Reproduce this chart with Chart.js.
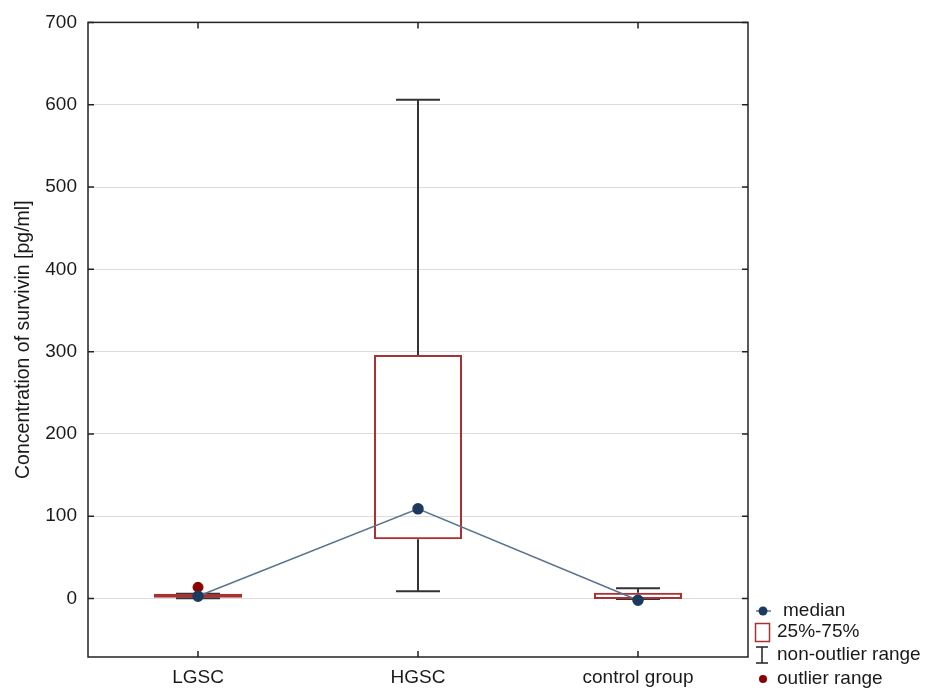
<!DOCTYPE html>
<html>
<head>
<meta charset="utf-8">
<script src="https://cdn.jsdelivr.net/npm/chart.js@4.4.0/dist/chart.umd.min.js"></script>
<style>
    body { margin: 0; background: #fff; }
</style>
</head>
<body>
<canvas id="chart" width="926" height="691"></canvas>
<script>
// box plot values
const categories = ["LGSC", "HGSC", "control group"];
const medians = [2.8, 109, -2];
const q1 = [0.9, 72, -0.4];
const q3 = [5.7, 296, 7];
const whiskerLow = [0.3, 9, -0.4];
const whiskerHigh = [5.7, 606, 12.5];
const outlierValues = [13.7, null, null];
const yTicks = [0, 100, 200, 300, 400, 500, 600, 700];

const FONT = "'Liberation Sans', Arial, sans-serif";
const BOX_COLOR = "#a83232";
const MEDIAN_COLOR = "#1c3a5e";
const OUTLIER_COLOR = "#8b0000";

// whiskers under the boxes
const whiskers = {
    id: "whiskers",
    beforeDatasetsDraw(chart) {
        const x = chart.scales.x;
        const y = chart.scales.y;
        const c = chart.ctx;
        const cap = (x.width / categories.length) * 0.1;
        c.save();
        c.strokeStyle = "#333";
        c.lineWidth = 2;
        categories.forEach((_cat, i) => {
            const px = x.getPixelForValue(i);
            const lo = y.getPixelForValue(whiskerLow[i]);
            const hi = y.getPixelForValue(whiskerHigh[i]);
            c.beginPath();
            c.moveTo(px, y.getPixelForValue(q1[i]));
            c.lineTo(px, lo);
            c.moveTo(px, y.getPixelForValue(q3[i]));
            c.lineTo(px, hi);
            c.moveTo(px - cap, lo);
            c.lineTo(px + cap, lo);
            c.moveTo(px - cap, hi);
            c.lineTo(px + cap, hi);
            c.stroke();
        });
        c.restore();
    }
};

// frame with inward ticks + legend in the bottom right corner
const frame = {
    id: "frame",
    afterDraw(chart) {
        const a = chart.chartArea;
        const x = chart.scales.x;
        const y = chart.scales.y;
        const c = chart.ctx;
        c.save();
        c.strokeStyle = "#222";
        c.lineWidth = 1.5;
        c.strokeRect(a.left, a.top, a.right - a.left, a.bottom - a.top);
        c.beginPath();
        yTicks.forEach(v => {
            const py = y.getPixelForValue(v);
            c.moveTo(a.left, py);
            c.lineTo(a.left + 6, py);
            c.moveTo(a.right, py);
            c.lineTo(a.right - 6, py);
        });
        categories.forEach((_cat, i) => {
            const px = x.getPixelForValue(i);
            c.moveTo(px, a.top);
            c.lineTo(px, a.top + 6);
            c.moveTo(px, a.bottom);
            c.lineTo(px, a.bottom - 6);
        });
        c.stroke();

        // legend
        const lx = a.right;
        c.font = "19px " + FONT;
        c.fillStyle = "#1a1a1a";
        c.textBaseline = "middle";

        c.strokeStyle = "#5a7390";
        c.lineWidth = 1.5;
        c.beginPath();
        c.moveTo(lx + 8, 611);
        c.lineTo(lx + 23, 611);
        c.stroke();
        c.fillStyle = MEDIAN_COLOR;
        c.beginPath();
        c.arc(lx + 15, 611, 4.5, 0, Math.PI * 2);
        c.fill();
        c.fillStyle = "#1a1a1a";
        c.fillText("median", lx + 35, 611);

        c.strokeStyle = BOX_COLOR;
        c.strokeRect(lx + 7.5, 623.5, 14, 18);
        c.fillText("25%-75%", lx + 29, 632);

        c.strokeStyle = "#222";
        c.beginPath();
        c.moveTo(lx + 14, 647);
        c.lineTo(lx + 14, 663);
        c.moveTo(lx + 8, 647);
        c.lineTo(lx + 20, 647);
        c.moveTo(lx + 8, 663);
        c.lineTo(lx + 20, 663);
        c.stroke();
        c.fillText("non-outlier range", lx + 29, 655);

        c.fillStyle = OUTLIER_COLOR;
        c.beginPath();
        c.arc(lx + 15, 679, 4, 0, Math.PI * 2);
        c.fill();
        c.fillStyle = "#1a1a1a";
        c.fillText("outlier range", lx + 29, 679);
        c.restore();
    }
};

new Chart(document.getElementById("chart"), {
    type: "bar",
    data: {
        labels: categories,
        datasets: [
            {
                label: "median",
                type: "line",
                data: medians,
                borderColor: "#5a7390",
                borderWidth: 1.5,
                pointBackgroundColor: MEDIAN_COLOR,
                pointBorderColor: MEDIAN_COLOR,
                pointRadius: 5,
                order: 1
            },
            {
                label: "outlier range",
                type: "line",
                data: outlierValues,
                showLine: false,
                pointBackgroundColor: OUTLIER_COLOR,
                pointBorderColor: OUTLIER_COLOR,
                pointRadius: 5,
                order: 2
            },
            {
                label: "25%-75%",
                data: q1.map((v, i) => [v, q3[i]]),
                backgroundColor: "rgba(0,0,0,0)",
                borderColor: BOX_COLOR,
                borderWidth: 2,
                borderSkipped: false,
                barPercentage: 0.4,
                categoryPercentage: 1,
                order: 3
            }
        ]
    },
    options: {
        responsive: false,
        animation: false,
        layout: { padding: { top: 18, right: 178, left: 0, bottom: 0 } },
        plugins: {
            legend: { display: false },
            tooltip: { enabled: false }
        },
        scales: {
            x: {
                offset: true,
                grid: { display: false, drawTicks: false },
                border: { display: false },
                ticks: { font: { family: FONT, size: 19 }, color: "#1a1a1a", padding: 9 },
                afterFit: s => { s.height = 34; }
            },
            y: {
                min: -71,
                max: 700,
                grid: { color: "#dcdcdc", drawTicks: false },
                border: { display: false },
                ticks: { stepSize: 100, font: { family: FONT, size: 19 }, color: "#1a1a1a", padding: 11 },
                afterBuildTicks: s => { s.ticks = yTicks.map(v => ({ value: v })); },
                title: {
                    display: true,
                    text: "Concentration of survivin [pg/ml]",
                    font: { family: FONT, size: 19.5 },
                    color: "#1a1a1a",
                    padding: { top: 12, bottom: 0 }
                },
                afterFit: s => { s.width = 88; }
            }
        }
    },
    plugins: [whiskers, frame]
});
</script>
</body>
</html>
